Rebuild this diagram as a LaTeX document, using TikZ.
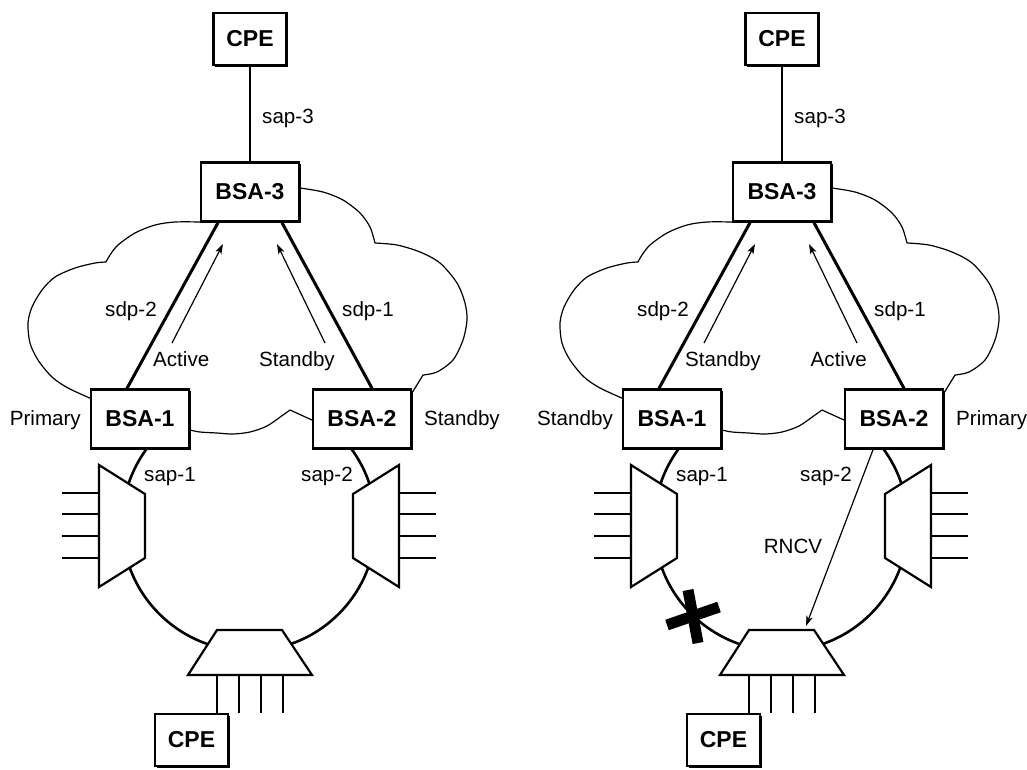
\documentclass[tikz,border=0pt]{standalone}
\usepackage{fontspec}
\setmainfont{Liberation Sans}
\usetikzlibrary{shadows,arrows.meta}
\tikzset{
 box/.style={draw,line width=2.4pt,fill=white,minimum width=98pt,minimum height=59pt,inner sep=0pt,
   font=\fontsize{23}{26}\selectfont\bfseries,
   drop shadow={shadow xshift=1.8pt,shadow yshift=-1.8pt,opacity=1,fill=black}},
 cpebox/.style={box,minimum width=73pt,minimum height=52pt},
 lbl/.style={inner sep=0pt,font=\fontsize{20.6}{24}\selectfont,text height=14.8pt,text depth=0pt},
 cloudline/.style={line width=1.2pt,line join=round},
 ringline/.style={line width=2.6pt},
 sdpline/.style={line width=3pt},
 sapline/.style={line width=2.4pt},
 thinarrow/.style={line width=1.2pt,-{Stealth[length=10pt,width=6.5pt,inset=2.5pt]}},
 trib/.style={line width=1.3pt},
 mux/.style={draw,line width=2.2pt,fill=white,line join=miter},
 xbar/.style={line width=11pt},
}
\newcommand\drawpanel[7]{%
\begin{scope}[xshift=#2pt]
 % cloud
 \draw[cloudline]
   plot[smooth] coordinates {(200,222)(175,222)(155,225)(135,233)(118,245)(110,255)(106,262)}
   plot[smooth] coordinates {(106,262)(95,263)(75,268)(55,277)(42,290)(32,307)(28,323)(30,343)(38,360)(52,377)(68,388)(92,399)}
   plot[smooth] coordinates {(300,188)(323,192)(343,200)(360,213)(370,227)(375,243)}
   plot[smooth] coordinates {(375,243)(397,245)(420,252)(440,263)(457,283)(465,303)(467,320)(463,340)(453,360)(437,372)(423,375)} -- (412,393)
   (312,420) -- (290,410)
   plot[smooth] coordinates {(290,410)(283,415)(267,426)(250,432)(233,434)(217,433)(200,432)(190,430)};
 % ring
 \draw[ringline] (249,524) ++(220:127) arc[start angle=220,end angle=-40,radius=127];
 % multiplexers
 \draw[mux] (99,465)--(145,494)--(145,558)--(99,587)--cycle;
 \draw[mux] (399,465)--(353,494)--(353,558)--(399,587)--cycle;
 \draw[mux] (217,630)--(282,630)--(312,675)--(188,675)--cycle;
 \foreach \yy in {493,514,536,558} {\draw[trib] (62,\yy)--(99,\yy); \draw[trib] (399,\yy)--(436,\yy);}
 \foreach \xx in {217,239,261,283} {\draw[trib] (\xx,675)--(\xx,713);}
 % nodes
 \node[cpebox] (#1cpet) at (250,39) {CPE};
 \node[box] (#1b3) at (250,192) {BSA-3};
 \node[box] (#1b1) at (140,419) {BSA-1};
 \node[box] (#1b2) at (362,419) {BSA-2};
 \node[cpebox] (#1cpeb) at (191.5,740) {CPE};
 % connectors
 \draw[sapline] (#1cpet) -- (#1b3);
 \draw[sdpline] ([xshift=-13pt]#1b1.north) -- ([xshift=-32pt]#1b3.south);
 \draw[sdpline] ([xshift=32pt]#1b3.south) -- ([xshift=10pt]#1b2.north);
 \coordinate (#1a1s) at (172,343); \coordinate (#1a1e) at (223,244);
 \coordinate (#1a2s) at (325,343); \coordinate (#1a2e) at (277,244);
 \draw[thinarrow] (#1a1s) -- (#1a1e);
 \draw[thinarrow] (#1a2s) -- (#1a2e);
 % labels
 \node[lbl] (#1sap3) at (288,116) {sap-3};
 \node[lbl] (#1sdp2) at (131,309) {sdp-2};
 \node[lbl] (#1sdp1) at (368,309) {sdp-1};
 \node[lbl,anchor=west] (#1al) at (153,359) {#5};
 \node[lbl,anchor=east] (#1ar) at (335,359) {#6};
 \node[lbl,anchor=east] (#1ll) at (81,418) {#3};
 \node[lbl,anchor=west] (#1rl) at (424,418) {#4};
 \node[lbl] (#1sap1) at (170,474) {sap-1};
 \node[lbl] (#1sap2) at (#7,474) {sap-2};
\end{scope}}
\begin{document}
\begin{tikzpicture}[x=1pt,y=-1pt]
\useasboundingbox (0,0) rectangle (1027,769);
\fill[white] (0,0) rectangle (1027,769);
\drawpanel{L}{0}{Primary}{Standby}{Active}{Standby}{327}
\drawpanel{R}{532}{Standby}{Primary}{Standby}{Active}{294}
\begin{scope}[xshift=532pt]
 \draw[xbar] (156,590)--(166,643);
 \draw[xbar] (135,625)--(187,607);
 \coordinate (Rtip) at (274,626);
 \draw[thinarrow] ([xshift=-21pt]Rb2.south) -- (Rtip);
 \node[lbl] (Rrncv) at (261,546) {RNCV};
\end{scope}
\end{tikzpicture}
\end{document}
